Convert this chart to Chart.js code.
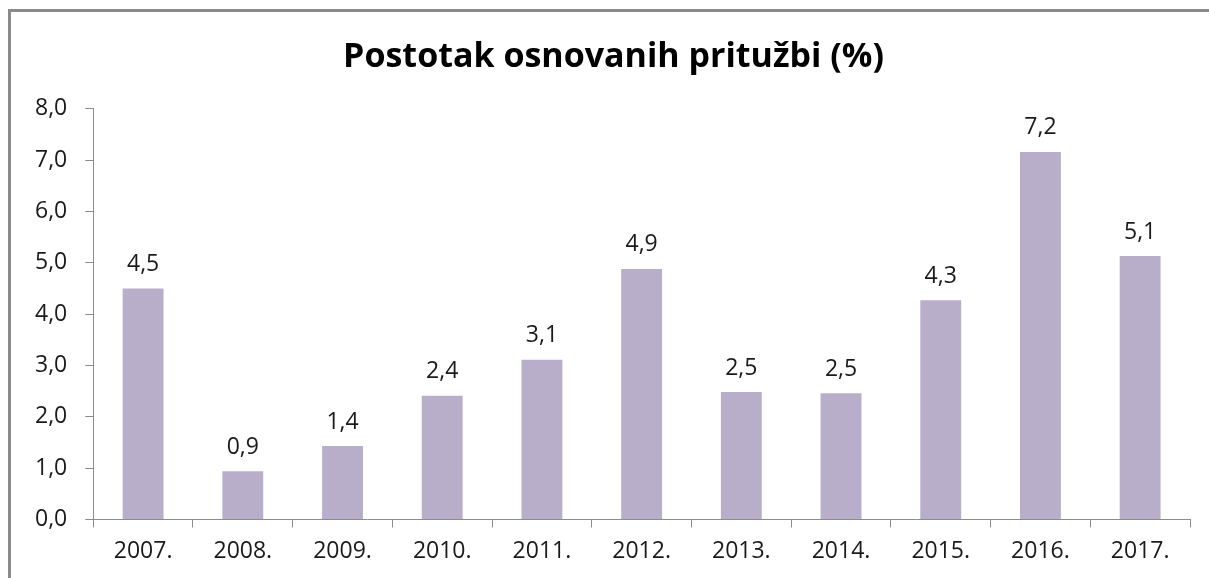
<!DOCTYPE html>
<html>
<head>
<meta charset="utf-8">
<script src="https://cdn.jsdelivr.net/npm/chart.js@4"></script>
<style>
  html, body { margin: 0; padding: 0; background: #fff; }
  #wrap { position: relative; width: 1209px; height: 578px; }
  #frame { position: absolute; left: 8px; top: 9px; right: 0; bottom: 0;
           border-top: 3px solid #8a8a8a; border-left: 3px solid #8a8a8a; }
  canvas { position: absolute; left: 0; top: 0; }
</style>
</head>
<body>
<div id="wrap">
  <div id="frame"></div>
  <canvas id="chart" width="1209" height="578"></canvas>
</div>
<script>
const years = ['2007.', '2008.', '2009.', '2010.', '2011.', '2012.', '2013.', '2014.', '2015.', '2016.', '2017.'];
const shares = [4.5, 0.94, 1.43, 2.41, 3.11, 4.88, 2.48, 2.46, 4.27, 7.16, 5.13];
const yTicks = [0, 1, 2, 3, 4, 5, 6, 7, 8];

const fmt = v => v.toFixed(1).replace('.', ',');
const font = "'Open Sans', 'Noto Sans', sans-serif";

// labels above each bar
const barLabels = {
  id: 'barLabels',
  afterLayout(chart) {
    // title sits centred on the framed area, a bit right of the canvas centre
    if (chart.titleBlock) chart.titleBlock.left += 20;
  },
  afterDatasetsDraw(chart) {
    const ctx = chart.ctx;
    const meta = chart.getDatasetMeta(0);
    ctx.save();
    ctx.font = '23px ' + font;
    ctx.fillStyle = '#1a1a1a';
    ctx.textAlign = 'center';
    ctx.textBaseline = 'middle';
    meta.data.forEach((bar, i) => {
      ctx.fillText(fmt(shares[i]), bar.x, bar.y - 24);
    });
    ctx.restore();
  }
};

new Chart(document.getElementById('chart').getContext('2d'), {
  type: 'bar',
  data: {
    labels: years,
    datasets: [{
      data: shares,
      backgroundColor: '#b8aeca',
      barPercentage: 0.41,
      categoryPercentage: 1
    }]
  },
  options: {
    responsive: false,
    animation: false,
    layout: { padding: { top: 10, right: 19, left: 17, bottom: 3 } },
    plugins: {
      legend: { display: false },
      tooltip: { enabled: false },
      title: {
        display: true,
        text: 'Postotak osnovanih pritužbi (%)',
        color: '#000',
        font: { family: font, size: 34, weight: 'bold' },
        padding: { top: 27, bottom: 31 }
      }
    },
    scales: {
      x: {
        grid: { display: true, drawOnChartArea: false, drawTicks: true, tickLength: 8, color: '#8c8c8c', offset: true },
        border: { display: true, color: '#8c8c8c' },
        ticks: { color: '#1a1a1a', font: { family: font, size: 23 }, padding: 10 }
      },
      y: {
        min: 0,
        max: 8,
        afterBuildTicks: axis => { axis.ticks = yTicks.map(v => ({ value: v })); },
        grid: { display: true, drawOnChartArea: false, drawTicks: true, tickLength: 8, color: '#8c8c8c' },
        border: { display: true, color: '#8c8c8c' },
        ticks: { color: '#1a1a1a', font: { family: font, size: 23 }, padding: 18, callback: v => fmt(v) }
      }
    }
  },
  plugins: [barLabels]
});
</script>
</body>
</html>
